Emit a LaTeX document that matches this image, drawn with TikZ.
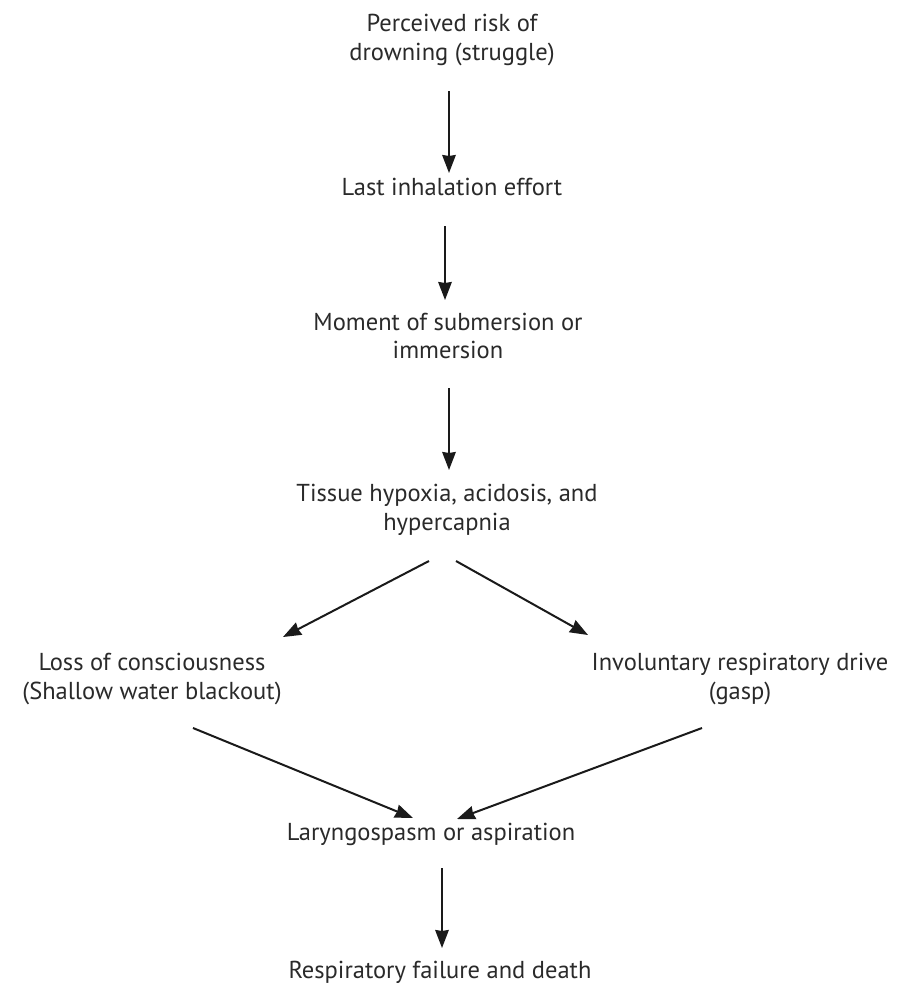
\documentclass[tikz,border=0pt]{standalone}
\usepackage{fontspec}
\setmainfont{PT Sans}
\usetikzlibrary{arrows.meta}
\definecolor{txt}{HTML}{2A2A2A}
\definecolor{arr}{HTML}{1A1A1A}
\begin{document}
\begin{tikzpicture}[x=1pt,y=-1pt,
  lbl/.style={text=txt,font=\fontsize{24.5}{28.5}\selectfont,align=center,inner sep=0pt,anchor=center},
  arrw/.style={draw=arr,line width=2pt,-{Stealth[length=18pt,width=13.5pt,inset=1pt]}}]
\useasboundingbox (0,0) rectangle (905,986);
\fill[white] (0,0) rectangle (905,986);
\node[lbl] (a) at (452,40) {Perceived risk of\\drowning (struggle)};
\node[lbl] (b) at (452,187) {Last inhalation effort};
\node[lbl] (c) at (448,336) {Moment of submersion or\\immersion};
\node[lbl] (d) at (447,510) {Tissue hypoxia, acidosis, and\\hypercapnia};
\node[lbl] (e) at (152,679) {Loss of consciousness\\(Shallow water blackout)};
\node[lbl] (f) at (740,679) {Involuntary respiratory drive\\(gasp)};
\node[lbl] (g) at (431,834) {Laryngospasm or aspiration};
\node[lbl] (h) at (440,972) {Respiratory failure and death};
\coordinate (a1) at (449,91); \coordinate (a2) at (449,173);
\coordinate (b1) at (445,226); \coordinate (b2) at (445,300);
\coordinate (c1) at (449,388); \coordinate (c2) at (449,470);
\coordinate (d1) at (429,561); \coordinate (d2) at (283,637);
\coordinate (d3) at (456,561); \coordinate (d4) at (588,635);
\coordinate (e1) at (193,728); \coordinate (e2) at (413,818);
\coordinate (f1) at (702,728); \coordinate (f2) at (457,819);
\coordinate (g1) at (442,868); \coordinate (g2) at (442,948);
\draw[arrw] (a1) -- (a2);
\draw[arrw] (b1) -- (b2);
\draw[arrw] (c1) -- (c2);
\draw[arrw] (d1) -- (d2);
\draw[arrw] (d3) -- (d4);
\draw[arrw] (e1) -- (e2);
\draw[arrw] (f1) -- (f2);
\draw[arrw] (g1) -- (g2);
\end{tikzpicture}
\end{document}
